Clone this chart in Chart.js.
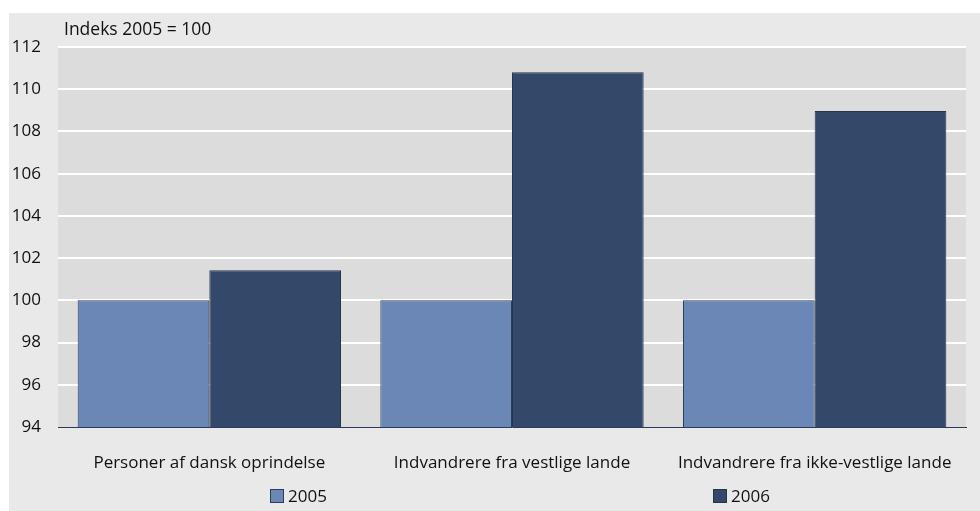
<!DOCTYPE html>
<html>
<head>
<meta charset="utf-8">
<script src="https://cdn.jsdelivr.net/npm/chart.js@4.4.1/dist/chart.umd.min.js"></script>
<style>
  html, body { margin: 0; padding: 0; background: #ffffff; }
  #wrap { width: 980px; height: 511px; position: relative; }
</style>
</head>
<body>
<div id="wrap"><canvas id="chart" width="980" height="511"></canvas></div>
<script>
const categories = ['Personer af dansk oprindelse', 'Indvandrere fra vestlige lande', 'Indvandrere fra ikke-vestlige lande']
const values2005 = [100, 100, 100]
const values2006 = [101.42, 110.8, 108.97]
const yTicks = [94, 96, 98, 100, 102, 104, 106, 108, 110, 112]
const seriesNames = ['2005', '2006']

const FONT = '"Open Sans", sans-serif'
const TEXT = '#111111'

// grey panel behind everything, plot-area fill, title and the spread-out legend
const decor = {
  id: 'decor',
  beforeDraw(chart) {
    const { ctx, chartArea } = chart
    ctx.save()
    ctx.fillStyle = '#e9e9e9'
    ctx.fillRect(9, 13, chart.width - 9, chart.height - 13)
    ctx.fillStyle = '#dcdcdc'
    ctx.fillRect(chartArea.left, chartArea.top, chartArea.right - chartArea.left, chartArea.bottom - chartArea.top)
    ctx.restore()
  },
  afterDraw(chart) {
    const { ctx, chartArea } = chart
    ctx.save()
    ctx.font = '17.5px ' + FONT
    ctx.fillStyle = TEXT
    ctx.textBaseline = 'middle'
    ctx.fillText('Indeks 2005 = 100', chartArea.left + 6, 30)

    const legendX = [270, 713]
    chart.data.datasets.forEach((ds, i) => {
      const x = legendX[i]
      ctx.fillStyle = ds.backgroundColor
      ctx.fillRect(x, 489, 14, 14)
      ctx.strokeStyle = ds.borderColor
      ctx.lineWidth = 1
      ctx.strokeRect(x + 0.5, 489.5, 13, 13)
      ctx.fillStyle = TEXT
      ctx.font = '17px ' + FONT
      ctx.fillText(ds.label, x + 18, 497)
    })
    ctx.restore()
  }
}

new Chart(document.getElementById('chart'), {
  type: 'bar',
  data: {
    labels: categories,
    datasets: [
      {
        label: seriesNames[0],
        data: values2005,
        backgroundColor: '#6b87b5',
        borderColor: '#2e3d5c',
        borderWidth: 1
      },
      {
        label: seriesNames[1],
        data: values2006,
        backgroundColor: '#34486a',
        borderColor: '#26344f',
        borderWidth: 1
      }
    ]
  },
  options: {
    responsive: false,
    animation: false,
    layout: { padding: { left: 0, top: 47, right: 14, bottom: 0 } },
    datasets: {
      bar: { categoryPercentage: 0.87, barPercentage: 1 }
    },
    plugins: {
      legend: { display: false },
      tooltip: { enabled: false }
    },
    scales: {
      x: {
        grid: { display: false, drawTicks: false },
        border: { color: '#2b3a57', width: 1 },
        ticks: { color: TEXT, font: { family: FONT, size: 17 }, padding: 26, maxRotation: 0 },
        afterFit(scale) { scale.height = 84 }
      },
      y: {
        min: 94,
        max: 112,
        afterBuildTicks(scale) { scale.ticks = yTicks.map(v => ({ value: v })) },
        grid: {
          drawTicks: false,
          lineWidth: 2,
          color: ctx => ctx.tick && ctx.tick.value === 94 ? 'rgba(0,0,0,0)' : '#ffffff'
        },
        border: { display: false },
        ticks: { color: TEXT, font: { family: FONT, size: 17 }, padding: 17 },
        afterFit(scale) { scale.width = 58 }
      }
    }
  },
  plugins: [decor]
})
</script>
</body>
</html>
